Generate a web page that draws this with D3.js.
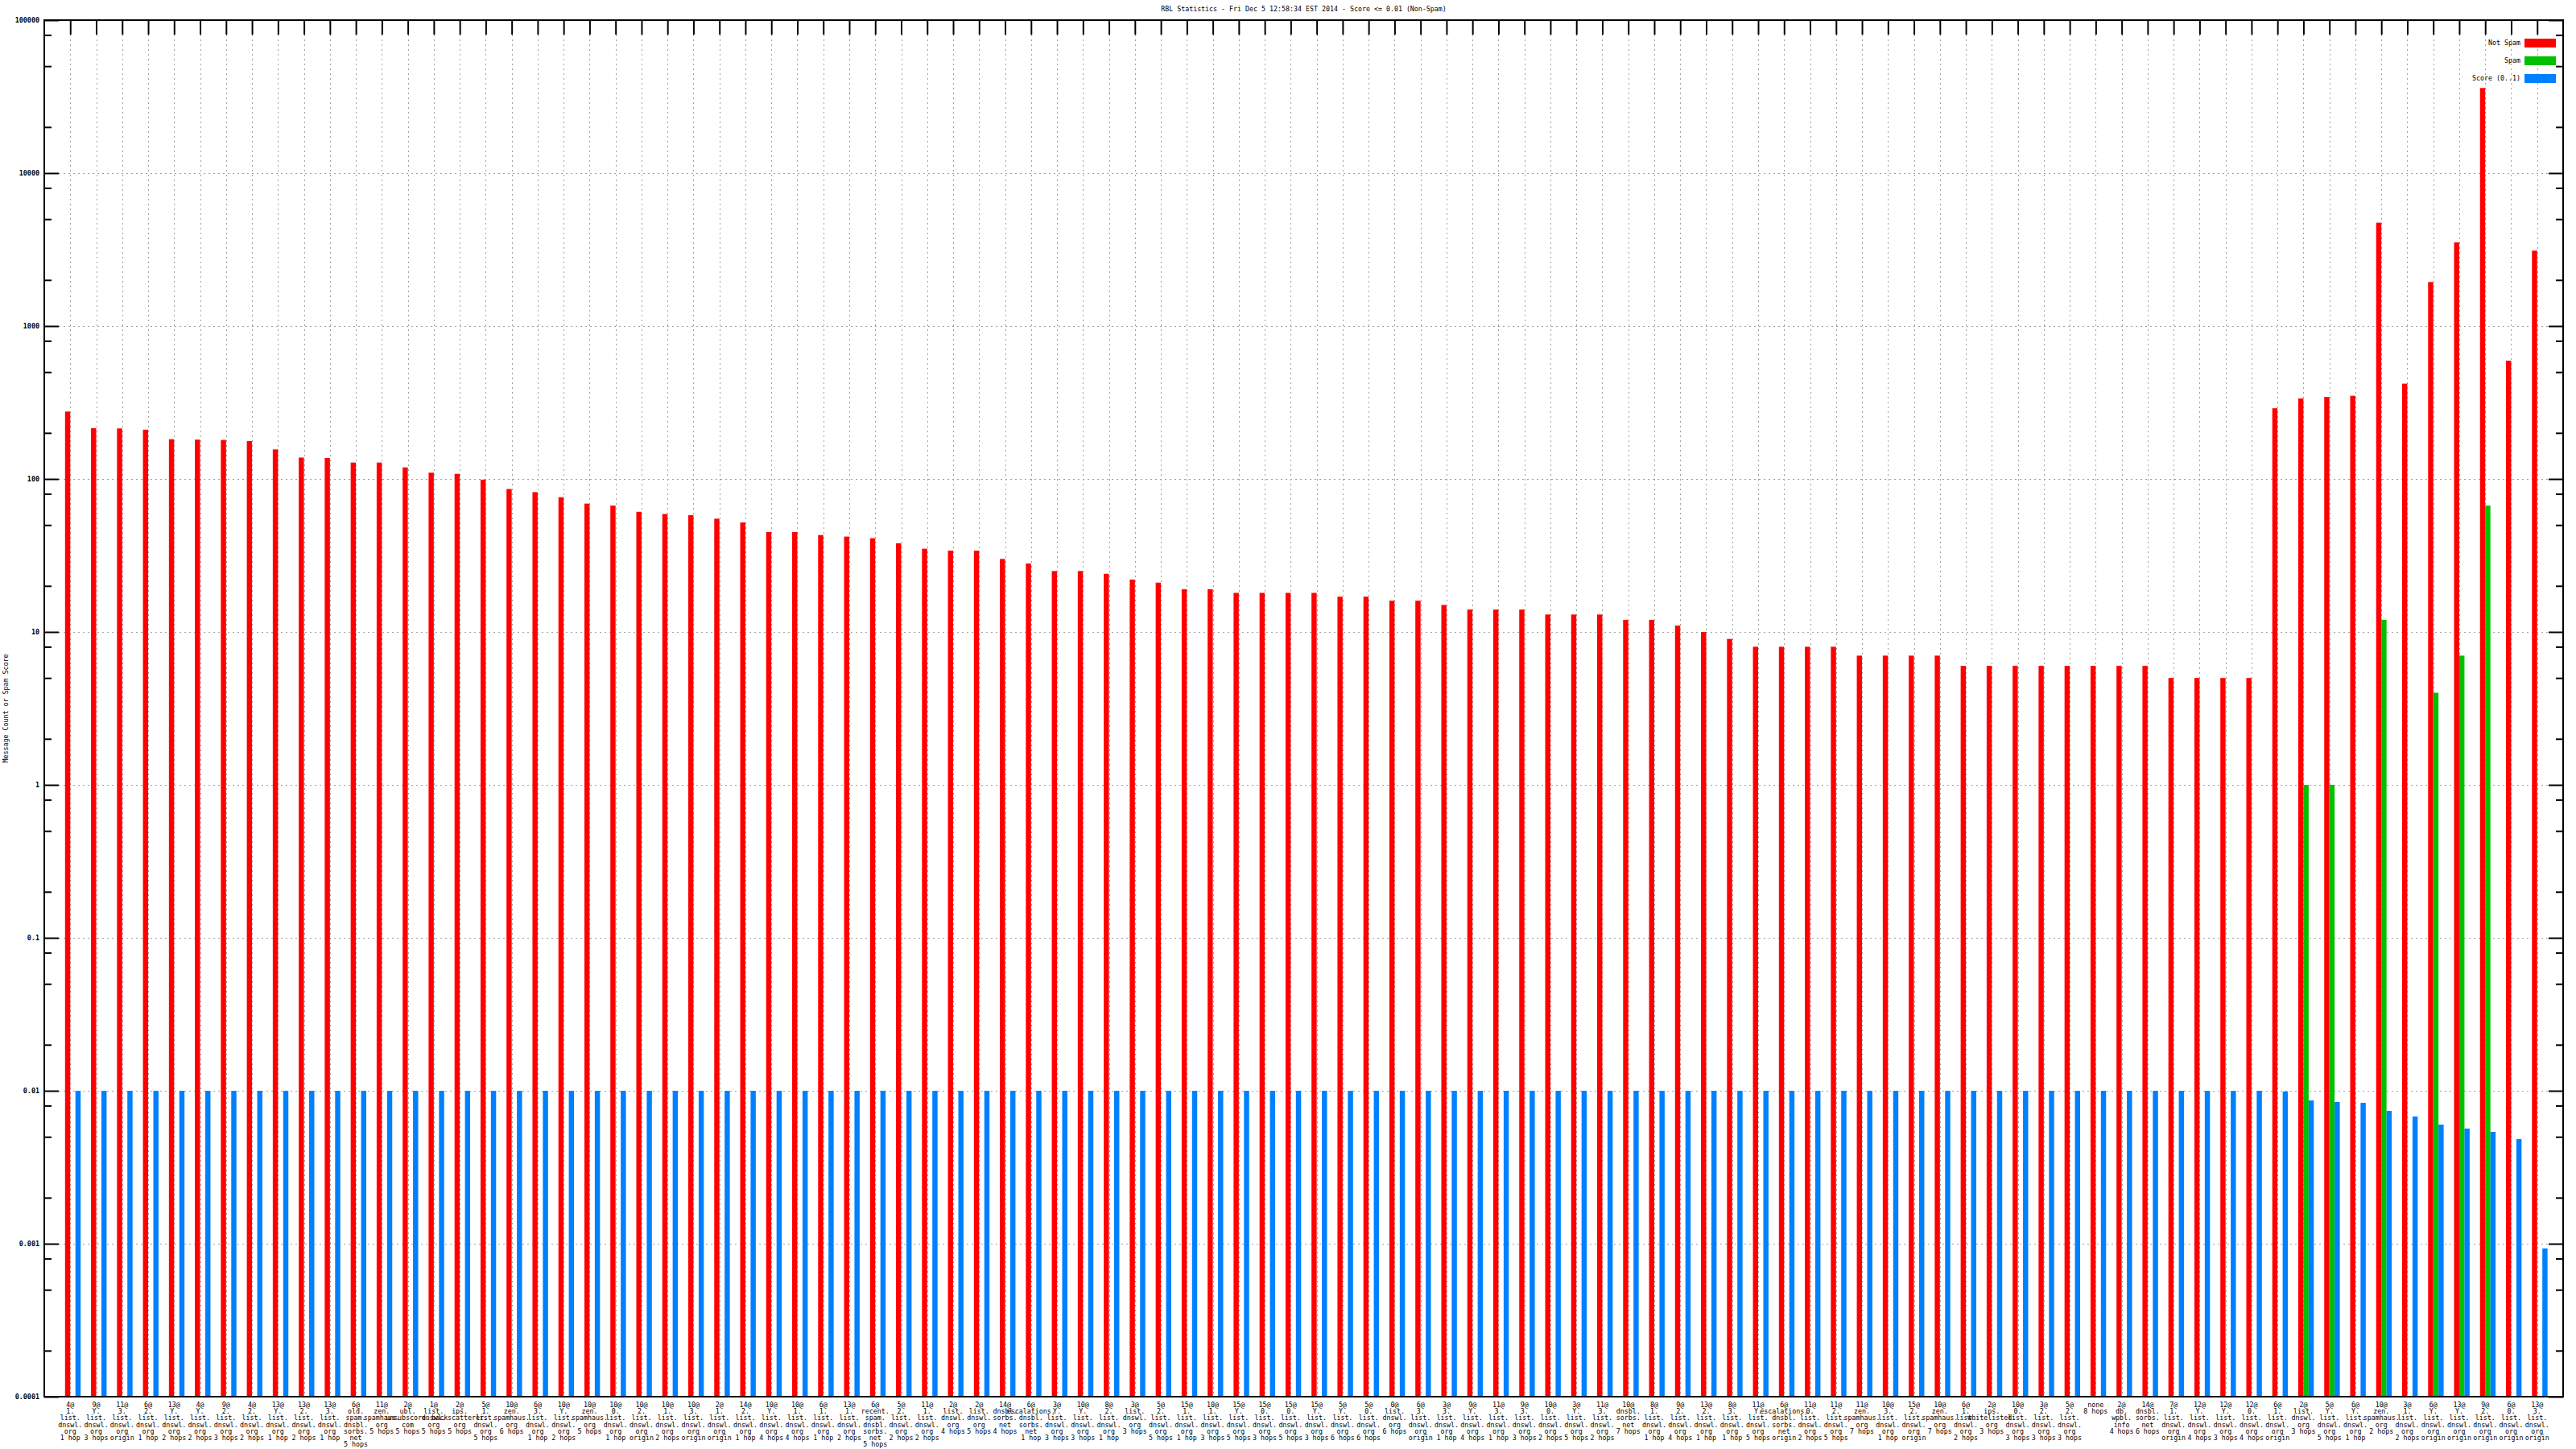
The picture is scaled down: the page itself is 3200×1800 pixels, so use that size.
<!DOCTYPE html>
<html><head><meta charset="utf-8">
<script src="https://cdn.jsdelivr.net/npm/d3@7"></script>
<style>
html,body{margin:0;padding:0;background:#fff;}
svg{display:block;}
text{font-family:"DejaVu Sans Mono",monospace;}
</style>
</head><body>
<script>
const titleText = "RBL Statistics - Fri Dec  5 12:58:34 EST 2014 - Score <= 0.01 (Non-Spam)";
const yTitle = "Message Count or Spam Score";
const seriesNames = ["Not Spam", "Spam", "Score (0..1)"];
const seriesColors = ["#ff0000", "#00c000", "#0080ff"];
const yTickValues = [1e5, 1e4, 1e3, 100, 10, 1, 0.1, 0.01, 0.001, 0.0001];
const yTickLabels = ["100000", "10000", "1000", "100", "10", "1", "0.1", "0.01", "0.001", "0.0001"];

const categories = [
"4@|1.|list.|dnswl.|org|1 hop","9@|Y.|list.|dnswl.|org|3 hops","11@|3.|list.|dnswl.|org|origin","6@|2.|list.|dnswl.|org|1 hop",
"13@|Y.|list.|dnswl.|org|2 hops","4@|Y.|list.|dnswl.|org|2 hops","9@|2.|list.|dnswl.|org|3 hops","4@|2.|list.|dnswl.|org|2 hops",
"13@|Y.|list.|dnswl.|org|1 hop","13@|2.|list.|dnswl.|org|2 hops","13@|3.|list.|dnswl.|org|1 hop","6@|old.|spam.|dnsbl.|sorbs.|net|5 hops",
"11@|zen.|spamhaus.|org|5 hops","2@|ubl.|unsubscore.|com|5 hops","1@|list.|dnswl.|org|5 hops","2@|ips.|backscatterer.|org|5 hops",
"5@|1.|list.|dnswl.|org|5 hops","10@|zen.|spamhaus.|org|6 hops","6@|3.|list.|dnswl.|org|1 hop","10@|Y.|list.|dnswl.|org|2 hops",
"10@|zen.|spamhaus.|org|5 hops","10@|0.|list.|dnswl.|org|1 hop","10@|2.|list.|dnswl.|org|origin","10@|1.|list.|dnswl.|org|2 hops",
"10@|3.|list.|dnswl.|org|origin","2@|1.|list.|dnswl.|org|origin","14@|2.|list.|dnswl.|org|1 hop","10@|Y.|list.|dnswl.|org|4 hops",
"10@|1.|list.|dnswl.|org|4 hops","6@|1.|list.|dnswl.|org|1 hop","13@|1.|list.|dnswl.|org|2 hops","6@|recent.|spam.|dnsbl.|sorbs.|net|5 hops",
"5@|2.|list.|dnswl.|org|2 hops","11@|1.|list.|dnswl.|org|2 hops","2@|list.|dnswl.|org|4 hops","2@|list.|dnswl.|org|5 hops",
"14@|dnsbl.|sorbs.|net|4 hops","6@|escalations.|dnsbl.|sorbs.|net|1 hop","3@|Y.|list.|dnswl.|org|3 hops","10@|Y.|list.|dnswl.|org|3 hops",
"8@|2.|list.|dnswl.|org|1 hop","3@|list.|dnswl.|org|3 hops","5@|2.|list.|dnswl.|org|5 hops","15@|1.|list.|dnswl.|org|1 hop",
"10@|1.|list.|dnswl.|org|3 hops","15@|Y.|list.|dnswl.|org|5 hops","15@|0.|list.|dnswl.|org|3 hops","15@|0.|list.|dnswl.|org|5 hops",
"15@|Y.|list.|dnswl.|org|3 hops","5@|Y.|list.|dnswl.|org|6 hops","5@|0.|list.|dnswl.|org|6 hops","0@|list.|dnswl.|org|6 hops",
"6@|3.|list.|dnswl.|org|origin","3@|3.|list.|dnswl.|org|1 hop","9@|Y.|list.|dnswl.|org|4 hops","11@|3.|list.|dnswl.|org|1 hop",
"9@|3.|list.|dnswl.|org|3 hops","10@|0.|list.|dnswl.|org|2 hops","3@|Y.|list.|dnswl.|org|5 hops","11@|3.|list.|dnswl.|org|2 hops",
"10@|dnsbl.|sorbs.|net|7 hops","8@|1.|list.|dnswl.|org|1 hop","9@|2.|list.|dnswl.|org|4 hops","13@|2.|list.|dnswl.|org|1 hop",
"8@|3.|list.|dnswl.|org|1 hop","11@|Y.|list.|dnswl.|org|5 hops","6@|escalations.|dnsbl.|sorbs.|net|origin","11@|0.|list.|dnswl.|org|2 hops",
"11@|2.|list.|dnswl.|org|5 hops","11@|zen.|spamhaus.|org|7 hops","10@|3.|list.|dnswl.|org|1 hop","15@|2.|list.|dnswl.|org|origin",
"10@|zen.|spamhaus.|org|7 hops","6@|1.|list.|dnswl.|org|2 hops","2@|ips.|whitelisted.|org|3 hops","10@|0.|list.|dnswl.|org|3 hops",
"3@|2.|list.|dnswl.|org|3 hops","5@|2.|list.|dnswl.|org|3 hops","none|8 hops","2@|db.|wpbl.|info|4 hops",
"14@|dnsbl.|sorbs.|net|6 hops","7@|1.|list.|dnswl.|org|origin","12@|Y.|list.|dnswl.|org|4 hops","12@|Y.|list.|dnswl.|org|3 hops",
"12@|0.|list.|dnswl.|org|4 hops","6@|1.|list.|dnswl.|org|origin","2@|list.|dnswl.|org|3 hops","5@|Y.|list.|dnswl.|org|5 hops",
"6@|Y.|list.|dnswl.|org|1 hop","10@|zen.|spamhaus.|org|2 hops","3@|1.|list.|dnswl.|org|2 hops","6@|Y.|list.|dnswl.|org|origin",
"13@|Y.|list.|dnswl.|org|origin","9@|2.|list.|dnswl.|org|origin","6@|0.|list.|dnswl.|org|origin","13@|3.|list.|dnswl.|org|origin"
];

const notSpam = [
276,215,214,210,182,181,180,177,156,138,137,128,128,119,110,108,
99,86,82,76,69,67,61,59,58,55,52,45,45,43,42,41,
38,35,34,34,30,28,25,25,24,22,21,19,19,18,18,18,
18,17,17,16,16,15,14,14,14,13,13,13,12,12,11,10,
9,8,8,8,8,7,7,7,7,6,6,6,6,6,6,6,
6,5,5,5,5,290,336,344,350,4740,420,1940,3520,36000,593,3110
];

const spam = [
0,0,0,0,0,0,0,0,0,0,0,0,0,0,0,0,
0,0,0,0,0,0,0,0,0,0,0,0,0,0,0,0,
0,0,0,0,0,0,0,0,0,0,0,0,0,0,0,0,
0,0,0,0,0,0,0,0,0,0,0,0,0,0,0,0,
0,0,0,0,0,0,0,0,0,0,0,0,0,0,0,0,
0,0,0,0,0,0,1,1,0,12,0,4,7,67,0,0
];

const score = [
0.01,0.01,0.01,0.01,0.01,0.01,0.01,0.01,0.01,0.01,0.01,0.01,0.01,0.01,0.01,0.01,
0.01,0.01,0.01,0.01,0.01,0.01,0.01,0.01,0.01,0.01,0.01,0.01,0.01,0.01,0.01,0.01,
0.01,0.01,0.01,0.01,0.01,0.01,0.01,0.01,0.01,0.01,0.01,0.01,0.01,0.01,0.01,0.01,
0.01,0.01,0.01,0.01,0.01,0.01,0.01,0.01,0.01,0.01,0.01,0.01,0.01,0.01,0.01,0.01,
0.01,0.01,0.01,0.01,0.01,0.01,0.01,0.01,0.01,0.01,0.01,0.01,0.01,0.01,0.01,0.01,
0.01,0.01,0.01,0.01,0.01,0.0099,0.00865,0.00844,0.00834,0.00739,0.00679,0.00601,0.00566,0.00539,0.00483,0.000932
];

(function () {
const W = 3200, H = 1800;
const pLeft = 55, pRight = 3184, pTop = 25, pBottom = 1735;

const svg = d3.select("body").append("svg").attr("width", W).attr("height", H);
svg.append("rect").attr("width", W).attr("height", H).attr("fill", "#fff");

const x = d3.scaleLinear().domain([-1, categories.length]).range([pLeft, pRight]);
const y = d3.scaleLog().domain([1e-4, 1e5]).range([pBottom, pTop]);

const minorVals = [];
yTickValues.forEach(v => { if (v < 1e5) [2, 5, 8].forEach(m => minorVals.push(v * m)); });

const idx = d3.range(categories.length);
const gridColor = "#a0a0a0";

// grid
const grid = svg.append("g").attr("stroke", gridColor).attr("stroke-width", 1).attr("stroke-dasharray", "2,4");
grid.selectAll("line.h").data(yTickValues.filter(v => v > 1e-4 && v < 1e5)).join("line").attr("class", "h")
  .attr("x1", pLeft).attr("x2", pRight).attr("y1", d => Math.round(y(d)) + 0.5).attr("y2", d => Math.round(y(d)) + 0.5);
grid.selectAll("line.v").data(idx).join("line").attr("class", "v")
  .attr("x1", d => Math.round(x(d)) + 0.5).attr("x2", d => Math.round(x(d)) + 0.5).attr("y1", pTop).attr("y2", pBottom);

// bars
const bw = x(0.2) - x(0);
const seriesData = [notSpam, spam, score];
const offsets = [-0.2, 0, 0.2];
seriesData.forEach((arr, s) => {
  svg.append("g").attr("fill", seriesColors[s]).selectAll("rect")
    .data(idx.filter(i => arr[i] > 0)).join("rect")
    .attr("x", i => x(i + offsets[s]))
    .attr("width", bw)
    .attr("y", i => y(arr[i]))
    .attr("height", i => pBottom - y(arr[i]));
});

// axes
const axG = svg.append("g");
function styleAxis(g) {
  g.select(".domain").remove();
  g.selectAll("line").attr("stroke", "#000").attr("stroke-width", 2);
}
const yLeft = d3.axisLeft(y).tickValues(yTickValues).tickFormat((d, i) => yTickLabels[i]).tickSizeInner(-18).tickSizeOuter(0).tickPadding(6);
const gL = axG.append("g").attr("transform", `translate(${pLeft},0)`).call(yLeft);
styleAxis(gL);
gL.selectAll("text").attr("font-size", "8.4px").attr("font-weight", "bold").attr("fill", "#000")
  .attr("font-family", '"DejaVu Sans Mono",monospace');

const yLeftMinor = d3.axisLeft(y).tickValues(minorVals).tickFormat("").tickSizeInner(-9).tickSizeOuter(0);
styleAxis(axG.append("g").attr("transform", `translate(${pLeft},0)`).call(yLeftMinor));

const yRight = d3.axisRight(y).tickValues(yTickValues).tickFormat("").tickSizeInner(-18).tickSizeOuter(0);
styleAxis(axG.append("g").attr("transform", `translate(${pRight},0)`).call(yRight));
const yRightMinor = d3.axisRight(y).tickValues(minorVals).tickFormat("").tickSizeInner(-9).tickSizeOuter(0);
styleAxis(axG.append("g").attr("transform", `translate(${pRight},0)`).call(yRightMinor));

const xTop = d3.axisTop(x).tickValues(idx).tickFormat("").tickSizeInner(-18).tickSizeOuter(0);
styleAxis(axG.append("g").attr("transform", `translate(0,${pTop})`).call(xTop));

// category labels
const lab = svg.append("g").attr("font-size", "8.3px").attr("fill", "#000").attr("text-anchor", "middle")
  .attr("font-family", '"DejaVu Sans Mono",monospace');
idx.forEach(i => {
  const t = lab.append("text").attr("x", x(i)).attr("y", pBottom + 13);
  categories[i].split("|").forEach((line, k) => {
    t.append("tspan").attr("x", x(i)).attr("dy", k === 0 ? 0 : 8.2).text(line);
  });
});

// frame
svg.append("rect").attr("x", pLeft).attr("y", pTop).attr("width", pRight - pLeft).attr("height", pBottom - pTop)
  .attr("fill", "none").attr("stroke", "#000").attr("stroke-width", 2);

// title
svg.append("text").attr("x", (pLeft + pRight) / 2).attr("y", 14).attr("text-anchor", "middle")
  .attr("font-size", "8.3px").attr("fill", "#000").text(titleText);

// y title
svg.append("text").attr("transform", `translate(10,${(pTop + pBottom) / 2}) rotate(-90)`)
  .attr("text-anchor", "middle").attr("font-size", "8.3px").attr("fill", "#000").text(yTitle);

// legend
const lg = svg.append("g");
seriesNames.forEach((n, s) => {
  const cy = 53 + s * 22;
  lg.append("text").attr("x", 3131).attr("y", cy + 3).attr("text-anchor", "end")
    .attr("font-size", "8.3px").attr("fill", "#000").text(n);
  lg.append("rect").attr("x", 3136).attr("y", cy - 5).attr("width", 39).attr("height", 11).attr("fill", seriesColors[s]);
});
})();
</script>
</body></html>
